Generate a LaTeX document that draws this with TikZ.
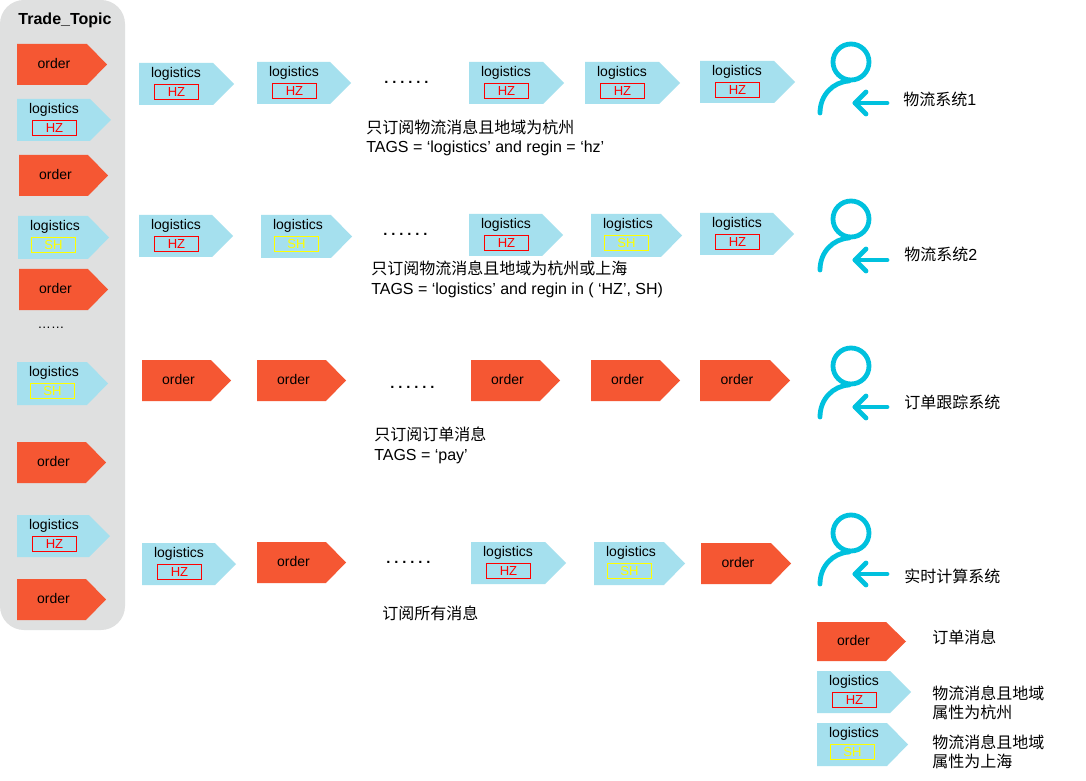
\documentclass[tikz,border=0pt]{standalone}
\usepackage{fontspec}
\setmainfont{Liberation Sans}
\newfontfamily\cjk{Noto Sans CJK SC}
\usetikzlibrary{calc}
\definecolor{ordc}{HTML}{F55733}
\definecolor{logc}{HTML}{A5E0EE}
\definecolor{panelc}{HTML}{DFE0E0}
\definecolor{userc}{HTML}{00C1DE}
\definecolor{shc}{HTML}{FFFF00}
\definecolor{hzc}{HTML}{FF0000}
\tikzset{
  x=0.75pt,y=-0.75pt,
  msgtext/.style={font=\fontsize{10.5}{12}\selectfont,text=black,inner sep=0pt},
  caption/.style={font=\fontsize{12}{14.5}\selectfont,text=black,inner sep=0pt,anchor=west,align=left},
  usermark/.style={draw=userc,line width=3.6pt,line cap=round,line join=round},
  dotrow/.style={font=\bfseries\fontsize{11}{12}\selectfont,inner sep=0pt},
}
\newcommand{\dotseq}{.\hspace{2.95pt}.\hspace{2.95pt}.\hspace{2.95pt}.\hspace{2.95pt}.\hspace{2.95pt}.}
% name, left, top, width, height
\newcommand{\ordmsg}[5]{%
  \fill[ordc] (#2,#3) -- ++(#4-20,0) -- ++(20,#5/2) -- ++(-20,#5/2) -- ++(-#4+20,0) -- cycle;
  \node[msgtext] (#1) at ({#2+(#4-20)/2+2},{#3+#5/2-1}) {order};
}
% name, left, top, width, height, tag, colour, tag x offset
\newcommand{\logmsg}[8]{%
  \fill[logc] (#2,#3) -- ++(#4-21,0) -- ++(21,#5/2) -- ++(-21,#5/2) -- ++(-#4+21,0) -- cycle;
  \node[msgtext] (#1) at ({#2+37},{#3+10.5}) {logistics};
  \node[draw=#7,line width=0.75pt,minimum width=32.5pt,minimum height=11.2pt,inner sep=0pt,
        font=\fontsize{9.8}{11}\selectfont,text=#7] (#1t) at ({#2+#8},{#3+29}) {#6};
}
\newcommand{\hzmsg}[5]{\logmsg{#1}{#2}{#3}{#4}{#5}{HZ}{hzc}{37.5}}
\newcommand{\shmsg}[5]{\logmsg{#1}{#2}{#3}{#4}{#5}{SH}{shc}{35.5}}
\newcommand{\usermark}[2]{%
  \coordinate (#1) at (851,#2);
  \draw[usermark] (#1) circle (18);
  \draw[usermark] ($(#1)+(-31,51)$) .. controls ($(#1)+(-31,33)$) and ($(#1)+(-18,20)$) .. ($(#1)+(-2,19)$);
  \draw[usermark] ($(#1)+(36,41)$) -- ($(#1)+(4,41)$);
  \draw[usermark] ($(#1)+(15,30)$) -- ($(#1)+(4,41)$) -- ($(#1)+(15,52)$);
}
\begin{document}
\begin{tikzpicture}
\useasboundingbox (0,0) rectangle (1086,781);
\fill[white] (0,0) rectangle (1086,781);
\fill[panelc,rounded corners=18pt] (0,0) rectangle (125,630);
\node[font=\bfseries\fontsize{12}{14}\selectfont,inner sep=0pt] (title) at (65,20) {Trade\_Topic};
% column
\ordmsg{c1}{17}{44}{90}{41}
\hzmsg{c2}{17}{99}{94}{42}
\ordmsg{c3}{19}{155}{89}{41}
\shmsg{c4}{18}{216}{91}{43}
\ordmsg{c5}{19}{269}{89}{41}
\node[font=\fontsize{10}{10}\selectfont,inner sep=0pt] (cd) at (51,328) {……};
\shmsg{c6}{17}{362}{91}{43}
\ordmsg{c7}{17}{442}{89}{41}
\hzmsg{c8}{17}{515}{93}{42}
\ordmsg{c9}{17}{579}{89}{41}
% row 1
\hzmsg{a1}{139}{63}{95}{42}
\hzmsg{a2}{257}{62}{94}{42}
\node[dotrow] (ad) at (406.5,82) {\dotseq};
\hzmsg{a3}{469}{62}{95}{42}
\hzmsg{a4}{585}{62}{95}{42}
\hzmsg{a5}{700}{61}{95}{42}
\usermark{ua}{62}
\node[caption] (ca) at (903,99) {{\cjk 物流系统}1};
\node[caption] (ta) at (366,138) {{\cjk 只订阅物流消息且地域为杭州}\\TAGS = ‘logistics’ and regin = ‘hz’};
% row 2
\hzmsg{b1}{139}{215}{94}{42}
\shmsg{b2}{261}{215}{91}{43}
\node[dotrow] (bd) at (405.5,234) {\dotseq};
\hzmsg{b3}{469}{214}{94}{42}
\shmsg{b4}{591}{214}{91}{43}
\hzmsg{b5}{700}{213}{94}{42}
\usermark{ub}{219}
\node[caption] (cb) at (904,254) {{\cjk 物流系统}2};
\node[caption] (tb) at (371,279.5) {{\cjk 只订阅物流消息且地域为杭州或上海}\\TAGS = ‘logistics’ and regin in ( ‘HZ’, SH)};
% row 3
\ordmsg{d1}{142}{360}{89}{41}
\ordmsg{d2}{257}{360}{89}{41}
\node[dotrow] (dd) at (412.5,387) {\dotseq};
\ordmsg{d3}{471}{360}{89}{41}
\ordmsg{d4}{591}{360}{89}{41}
\ordmsg{d5}{700}{360}{90}{41}
\usermark{ud}{366}
\node[caption] (cd2) at (904,402) {{\cjk 订单跟踪系统}};
\node[caption] (td) at (374,445.5) {{\cjk 只订阅订单消息}\\TAGS = ‘pay’};
% row 4
\hzmsg{e1}{142}{543}{94}{42}
\ordmsg{e2}{257}{542}{89}{41}
\node[dotrow] (ed) at (408.5,562) {\dotseq};
\hzmsg{e3}{471}{542}{95}{42}
\shmsg{e4}{594}{542}{91}{43}
\ordmsg{e5}{701}{543}{90}{41}
\usermark{ue}{533}
\node[caption] (ce) at (904,576) {{\cjk 实时计算系统}};
\node[caption] (te) at (382,613) {{\cjk 订阅所有消息}};
% legend
\ordmsg{l1}{817}{622}{89}{39}
\node[caption] (lt1) at (932,637) {{\cjk 订单消息}};
\hzmsg{l2}{817}{671}{94}{42}
\node[caption] (lt2) at (932,703) {{\cjk 物流消息且地域}\\{\cjk 属性为杭州}};
\shmsg{l3}{817}{723}{91}{43}
\node[caption] (lt3) at (932,752) {{\cjk 物流消息且地域}\\{\cjk 属性为上海}};
\end{tikzpicture}
\end{document}
